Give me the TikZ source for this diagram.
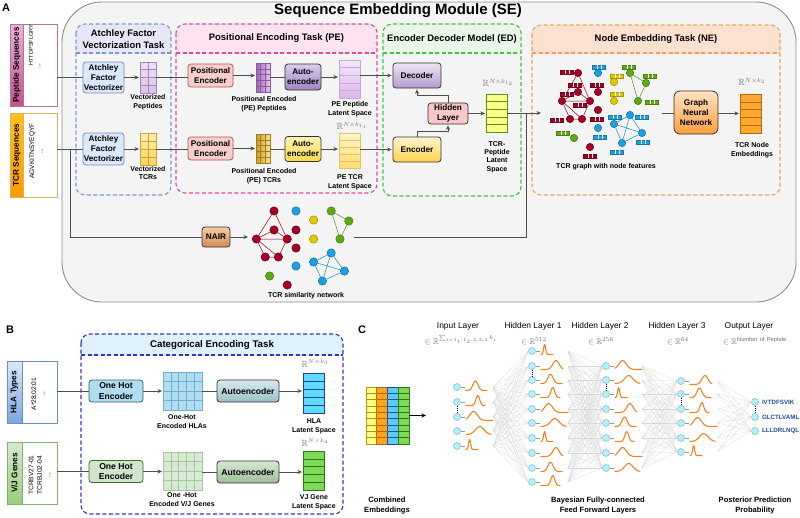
\documentclass[tikz,border=0pt]{standalone}
\usepackage{fontspec}
\setmainfont{Liberation Sans}
\usepackage{amssymb}
\usetikzlibrary{arrows.meta,calc}
\definecolor{lc}{HTML}{4D4D4D}
\definecolor{seb}{HTML}{F4F4F4}
\definecolor{sed}{HTML}{8C8C8C}
\definecolor{mgray}{HTML}{6E6E6E}
\definecolor{pepD}{HTML}{B5739D}\definecolor{pepT}{HTML}{EBB2D4}\definecolor{pepB}{HTML}{C4518F}
\definecolor{tcrD}{HTML}{D6B656}\definecolor{tcrT}{HTML}{FFC21A}\definecolor{tcrB}{HTML}{FF9A00}
\definecolor{hlaD}{HTML}{6C8EBF}\definecolor{hlaT}{HTML}{DAE8FC}\definecolor{hlaB}{HTML}{7EA6E0}
\definecolor{vjD}{HTML}{82B366}\definecolor{vjT}{HTML}{D5E8D4}\definecolor{vjB}{HTML}{97D077}
\definecolor{atD}{HTML}{7D98C8}\definecolor{atH}{HTML}{E6E6F7}
\definecolor{peD}{HTML}{E2479D}\definecolor{peH}{HTML}{FCE3EF}
\definecolor{edD}{HTML}{3FC83F}\definecolor{edH}{HTML}{EAF5EA}
\definecolor{neD}{HTML}{F2A054}\definecolor{neH}{HTML}{FCE1D0}
\definecolor{caD}{HTML}{3434C4}\definecolor{caH}{HTML}{DFF2FB}
\definecolor{atF}{HTML}{DAE8FC}\definecolor{atB}{HTML}{6C8EBF}
\definecolor{vpT}{HTML}{EEE2F4}\definecolor{vpB}{HTML}{D9C3E6}\definecolor{vpD}{HTML}{A383B8}
\definecolor{vtT}{HTML}{FFEEB0}\definecolor{vtB}{HTML}{FFD45C}\definecolor{vtD}{HTML}{C9A23A}
\definecolor{peF}{HTML}{F8CECC}\definecolor{peB}{HTML}{B85450}
\definecolor{pmL}{HTML}{9C63B5}\definecolor{pmR}{HTML}{E3C9EE}\definecolor{pmD}{HTML}{8A5AA0}
\definecolor{ptL}{HTML}{C79A2C}\definecolor{ptR}{HTML}{FFE38F}\definecolor{ptD}{HTML}{A37E1E}
\definecolor{aepT}{HTML}{D9CCE8}\definecolor{aepB}{HTML}{9E84C2}
\definecolor{aeyT}{HTML}{FFF2B3}\definecolor{aeyB}{HTML}{FFD94D}
\definecolor{l1T}{HTML}{F3E6F8}\definecolor{l1B}{HTML}{DCB8EA}\definecolor{l1D}{HTML}{C9A6DA}
\definecolor{l2T}{HTML}{FFF6C8}\definecolor{l2B}{HTML}{FFDC6E}\definecolor{l2D}{HTML}{E3C26A}
\definecolor{decT}{HTML}{EDE4F3}\definecolor{decB}{HTML}{B49ACF}
\definecolor{encT}{HTML}{FFF6D0}\definecolor{encB}{HTML}{FFD24D}
\definecolor{hidF}{HTML}{F8C8C8}
\definecolor{tplF}{HTML}{FFFF88}\definecolor{tplD}{HTML}{4E9A16}
\definecolor{gnnT}{HTML}{FFE4C4}\definecolor{gnnB}{HTML}{FF9E3D}
\definecolor{embF}{HTML}{FFAA2E}\definecolor{embD}{HTML}{B36A00}
\definecolor{nairT}{HTML}{F7CBA4}\definecolor{nairB}{HTML}{D08A52}
\definecolor{gR}{HTML}{A20025}\definecolor{gB}{HTML}{1BA1E2}\definecolor{gY}{HTML}{E3C800}\definecolor{gG}{HTML}{60A917}
\definecolor{ohH}{HTML}{B1DDF0}\definecolor{ohHd}{HTML}{2E5E75}\definecolor{ohV}{HTML}{CFE7C8}\definecolor{ohVd}{HTML}{3C6630}
\definecolor{omH}{HTML}{B1DDF0}\definecolor{omHd}{HTML}{6FAFD0}\definecolor{omV}{HTML}{D8EBD4}\definecolor{omVd}{HTML}{A3C79A}
\definecolor{abHT}{HTML}{D9EAEE}\definecolor{abHB}{HTML}{9BBFC7}\definecolor{abVT}{HTML}{D7E8D3}\definecolor{abVB}{HTML}{9DBE98}
\definecolor{hlF}{HTML}{5EDCFB}\definecolor{hlD}{HTML}{1F3FA8}\definecolor{vlF}{HTML}{7CDA58}\definecolor{vlD}{HTML}{2D7A16}
\definecolor{cY}{HTML}{FFFF88}\definecolor{cYd}{HTML}{B09A00}\definecolor{cO}{HTML}{FFA31A}\definecolor{cOd}{HTML}{B36A00}
\definecolor{cC}{HTML}{5BCEF0}\definecolor{cCd}{HTML}{2446B8}\definecolor{cG}{HTML}{7CDA58}\definecolor{cGd}{HTML}{2D7A16}
\definecolor{nnf}{HTML}{B8EEF8}\definecolor{nnd}{HTML}{7CC6DA}
\definecolor{bellc}{HTML}{EE8421}
\definecolor{pepl}{HTML}{1F4E9C}
\newcommand\fT{\fontsize{15}{18}\selectfont\bfseries}
\newcommand\fH{\fontsize{9.4}{11.5}\selectfont\bfseries}
\newcommand\fB{\fontsize{8.2}{10}\selectfont\bfseries}
\newcommand\fBB{\fontsize{8.6}{10.2}\selectfont\bfseries}
\newcommand\fS{\fontsize{7}{8.7}\selectfont\bfseries}
\newcommand\fR{\fontsize{6.6}{8.5}\selectfont}
\newcommand\fC{\fontsize{8.4}{10}\selectfont}
\newcommand\fL{\fontsize{7.6}{10}\selectfont\bfseries}
\newcommand\fM{\fontsize{9}{10}\selectfont}
\tikzset{
 ln/.style={draw=lc, line width=0.8pt},
 arr/.style={draw=lc, line width=0.8pt, -{Stealth[length=4.5pt,width=4pt]}, shorten >=1pt},
 bx/.style={rounded corners=3pt, line width=0.8pt, align=center, inner sep=0pt, font=\fB},
 sz/.style 2 args={minimum width=#1pt, minimum height=#2pt},
 mat/.style={line width=0.7pt, inner sep=0pt, outer sep=0pt},
 lbl/.style={font=\fS, align=center, inner sep=0pt},
 ttl/.style={font=\fH, align=center, inner sep=0pt},
 rot/.style={rotate=90, inner sep=0pt},
 tb/.style={line width=1.1pt, dash pattern=on 4pt off 2.5pt, rounded corners=9pt},
 fan/.style={draw=black!16, line width=0.25pt},
 nn/.style={circle, inner sep=0pt, minimum size=7pt, fill=nnf, draw=nnd, line width=0.6pt},
 bell/.style={draw=bellc, line width=1.1pt, line cap=round, line join=round},
 mth/.style={font=\fM, text=mgray, inner sep=0pt},
 fml/.style={font=\fontsize{8.2}{9}\selectfont, text=mgray, inner sep=0pt, anchor=base},
 dotdot/.style={draw=black, line width=1pt, dash pattern=on 0.9pt off 1.2pt},
 outl/.style={font=\fontsize{6.2}{7}\selectfont\bfseries, text=pepl, anchor=west, inner sep=0pt},
}
\newcommand\mgrid[4]{%
 \pgfmathtruncatemacro\mgc{#2-1}%
 \pgfmathtruncatemacro\mgr{#3-1}%
 \ifnum\mgc>0
  \foreach \k in {1,...,\mgc}{\pgfmathsetmacro\mgf{\k/#2}\draw[#4,line width=0.6pt] ($(#1.north west)!\mgf!(#1.north east)$) -- ($(#1.south west)!\mgf!(#1.south east)$);}%
 \fi
 \ifnum\mgr>0
  \foreach \k in {1,...,\mgr}{\pgfmathsetmacro\mgf{\k/#3}\draw[#4,line width=0.6pt] ($(#1.north west)!\mgf!(#1.south west)$) -- ($(#1.north east)!\mgf!(#1.south east)$);}%
 \fi
}
\newcommand\taskbox[7]{%
 \begin{scope}\clip (#1,#2) rectangle (#3,#5);
  \fill[#7, rounded corners=9pt] (#1,#2) rectangle (#3,#4);
 \end{scope}
 \draw[tb, draw=#6] (#1,#2) rectangle (#3,#4);
 \draw[#6, line width=1.1pt, dash pattern=on 4pt off 2.5pt] (#1,#5) -- (#3,#5);
}
\newcommand\gnode[3]{\node[circle,inner sep=0pt,minimum size=\gsz,line width=0.5pt,fill=#2,draw=#2!70!black] (\gpre#1) at (#3) {};}
\newcommand\tcrgraph[2]{%
 \def\gpre{#1}\def\gsz{#2}%
 \gnode{r1}{gR}{0,0}\gnode{r2}{gR}{0,19}\gnode{r3}{gR}{-16,28}\gnode{r4}{gR}{12,28}\gnode{r5}{gR}{-8,46}%
 \gnode{r6}{gR}{4,46}\gnode{r7}{gR}{20,19}\gnode{r8}{gR}{20,37}\gnode{r9}{gR}{12,74}%
 \gnode{b1}{gB}{20,0}\gnode{b2}{gB}{20,55}\gnode{b3}{gB}{36,51}\gnode{b4}{gB}{52,42}\gnode{b5}{gB}{64,60}\gnode{b6}{gB}{44,70}%
 \gnode{y1}{gY}{36,9}\gnode{y2}{gY}{36,28}%
 \gnode{g1}{gG}{52,0}\gnode{g2}{gG}{68,10}\gnode{g3}{gG}{60,28}\gnode{g4}{gG}{-4,65}%
 \draw[gR!85!black, line width=0.5pt] (#1r1)--(#1r3) (#1r1)--(#1r4) (#1r2)--(#1r3) (#1r2)--(#1r4) (#1r3)--(#1r4) (#1r3)--(#1r5) (#1r5)--(#1r6) (#1r6)--(#1r4) (#1r3)--(#1r6);
 \draw[gB!85!black, line width=0.5pt] (#1b3)--(#1b4) (#1b4)--(#1b5) (#1b5)--(#1b6) (#1b6)--(#1b3) (#1b3)--(#1b5) (#1b4)--(#1b6);
 \draw[gG!85!black, line width=0.5pt] (#1g1)--(#1g2) (#1g2)--(#1g3) (#1g1)--(#1g3);
}
\newcommand\gbar[3]{\filldraw[fill=#1, draw=#1!75!black, line width=0.3pt] (#2-6.5,#3-2.2) rectangle (#2+6.5,#3+2.2);
 \draw[white, line width=0.4pt] (#2-2.2,#3-2.2) -- (#2-2.2,#3+2.2) (#2+2.2,#3-2.2) -- (#2+2.2,#3+2.2);}
\newcommand\bellat[2]{%
 \pgfmathsetmacro\bm{{0.68,0.30,0.55,0.28,0.62,0.45}[#2]}%
 \pgfmathsetmacro\bs{{0.20,0.12,0.24,0.20,0.14,0.17}[#2]}%
 \pgfmathsetmacro\bw{{22,12,25,27,19,21}[#2]}%
 \pgfmathsetmacro\bh{{9,10,8,9,10,9.5}[#2]}%
 \draw[black!40, line width=0.5pt] (#1.east) -- ++(4,0);%
 \begin{scope}[shift={($(#1)+(9,3.5)$)}]
 \draw[bell] plot[domain=0:1, samples=25, smooth] ({\bw*\x},{-\bh*exp(-min(((\x-\bm)/\bs)*((\x-\bm)/\bs),12))});
 \end{scope}%
}
\begin{document}
\begin{tikzpicture}[x=1pt,y=-1pt]
\useasboundingbox (0,0) rectangle (800,517);
% ---------- Panel A ----------
\node[font=\fontsize{11}{12}\selectfont\bfseries, inner sep=0pt] (labA) at (6,8) {A};
\draw[fill=seb, draw=sed, line width=0.9pt, rounded corners=40pt] (62,2) rectangle (796,302);
\node[font=\fT, inner sep=0pt] (setitle) at (398,11) {Sequence Embedding Module (SE)};
\taskbox{76}{24}{171}{195}{53}{atD}{atH}
\taskbox{176}{24}{377}{193}{53}{peD}{peH}
\taskbox{383}{24}{521}{196}{53}{edD}{edH}
\taskbox{532}{25}{780}{195}{53}{neD}{neH}
\node[ttl] (atT) at (123.5,39) {Atchley Factor\\Vectorization Task};
\node[ttl] (peT) at (276.5,38) {Positional Encoding Task (PE)};
\node[ttl] (edT) at (452,39) {Encoder Decoder Model (ED)};
\node[ttl] (neT) at (656,39) {Node Embedding Task (NE)};
% inputs
\node[draw=pepD, fill=white, line width=0.8pt, minimum width=47pt, minimum height=82pt, inner sep=0pt, outer sep=0pt] (pep) at (33.5,65) {};
\path[top color=pepT, bottom color=pepB, draw=pepD, line width=0.8pt] (pep.north west) rectangle ($(pep.south west)+(13.5,0)$);
\node[rot, font=\fB] (pepL) at ($(pep.west)+(6.75,0)$) {Peptide Sequences};
\node[rot, font=\fontsize{5.6}{7}\selectfont] (pepS) at (31,45) {HTTDPSFLGRY};
\node[rot, font=\fR] (pepE) at (40,66) {...};
\node[draw=tcrD, fill=white, line width=0.8pt, minimum width=47pt, minimum height=84pt, inner sep=0pt, outer sep=0pt] (tcr) at (33.5,155) {};
\path[top color=tcrT, bottom color=tcrB, draw=tcrD, line width=0.8pt] (tcr.north west) rectangle ($(tcr.south west)+(13.5,0)$);
\node[rot, font=\fB] (tcrL) at ($(tcr.west)+(6.75,0)$) {TCR Sequences};
\node[rot, font=\fR, align=center] (tcrS) at (36,151) {AGVKITNSYEQYF\\...};
% Atchley
\node[bx, sz={41}{31}, fill=atF, draw=atB] (atch1) at (103.5,77.5) {Atchley\\Factor\\Vectorizer};
\node[bx, sz={41}{32}, fill=atF, draw=atB] (atch2) at (103.5,149) {Atchley\\Factor\\Vectorizer};
\node[mat, sz={16}{31}, top color=vpT, bottom color=vpB, draw=vpD] (vp) at (148,77.5) {};
\mgrid{vp}{2}{4}{vpD}
\node[mat, sz={16}{32}, top color=vtT, bottom color=vtB, draw=vtD] (vt) at (148,149) {};
\mgrid{vt}{2}{4}{vtD}
\node[lbl] (vpL) at (148,102.5) {Vectorized\\Peptides};
\node[lbl] (vtL) at (148,173) {Vectorized\\TCRs};
% PE
\node[bx, sz={45}{23}, fill=peF, draw=peB] (pe1) at (210.5,75.5) {Positional\\Encoder};
\node[bx, sz={45}{23}, fill=peF, draw=peB] (pe2) at (210.5,148.5) {Positional\\Encoder};
\node[mat, sz={14}{29}, left color=pmL, right color=pmR, draw=pmD] (pem1) at (263,77.5) {};
\mgrid{pem1}{3}{5}{pmD}
\node[mat, sz={14}{29}, left color=ptL, right color=ptR, draw=ptD] (pem2) at (263,148.5) {};
\mgrid{pem2}{3}{5}{ptD}
\node[lbl] (pem1L) at (264,104.5) {Positional Encoded\\(PE) Peptides};
\node[lbl] (pem2L) at (264,176) {Positional Encoded\\(PE) TCRs};
\node[bx, sz={36}{26}, top color=aepT, bottom color=aepB, draw=black!80] (ae1) at (303,77) {Auto-\\encoder};
\node[bx, sz={36}{25}, top color=aeyT, bottom color=aeyB, draw=black!80] (ae2) at (303,149) {Auto-\\encoder};
\node[mat, sz={21}{38}, top color=l1T, bottom color=l1B, draw=l1D] (lat1) at (349.5,79) {};
\mgrid{lat1}{1}{5}{l1D}
\node[mat, sz={21}{35}, top color=l2T, bottom color=l2B, draw=l2D] (lat2) at (349.5,150.5) {};
\mgrid{lat2}{1}{5}{l2D}
\node[lbl] (lat1L) at (350,109.5) {PE Peptide\\Latent Space};
\node[lbl] (lat2L) at (350,182) {PE TCR\\Latent Space};
\node[mth] (lat2R) at (352,126) {$\mathbb{R}^{N\times k_{1_1}}$};
% ED
\node[bx, sz={48}{25}, top color=decT, bottom color=decB, draw=black!80] (dec) at (417,75.5) {Decoder};
\node[bx, sz={48}{25}, top color=encT, bottom color=encB, draw=black!80] (enc) at (417,149.5) {Encoder};
\node[bx, sz={40}{21}, fill=hidF, draw=black!80] (hid) at (448,113.5) {Hidden\\Layer};
\node[mat, sz={21}{38}, fill=tplF, draw=tplD] (tpl) at (496.5,113) {};
\mgrid{tpl}{1}{5}{tplD}
\node[mth] (tplR) at (498,83) {$\mathbb{R}^{N\times k_{1_2}}$};
\node[lbl, font=\fontsize{7}{8.3}\selectfont\bfseries] (tplL) at (497,157) {TCR-\\Peptide\\Latent\\Space};
% NE
\begin{scope}[shift={(578,73)}]
\tcrgraph{ne}{7.4pt}
\gbar{gR}{-11}{-1}\gbar{gR}{-3}{12}\gbar{gR}{19}{12}\gbar{gR}{-11}{21}\gbar{gR}{2}{32}\gbar{gR}{-21}{47}\gbar{gR}{19}{46}\gbar{gR}{12}{83}
\gbar{gB}{21}{-6}\gbar{gB}{37}{44}\gbar{gB}{64}{44}\gbar{gB}{22}{64}\gbar{gB}{65}{69}\gbar{gB}{39}{79}
\gbar{gY}{39}{3}\gbar{gY}{39}{21}
\gbar{gG}{51}{-6}\gbar{gG}{72}{3}\gbar{gG}{74}{29}\gbar{gG}{-15}{60}
\end{scope}
\node[lbl] (neGL) at (606,167) {TCR graph with node features};
\node[bx, sz={44}{43}, rounded corners=6pt, top color=gnnT, bottom color=gnnB, draw=black!80] (gnn) at (696,112.5) {Graph\\Neural\\Network};
\node[mat, sz={21}{39}, fill=embF, draw=embD] (emb) at (750.5,113.5) {};
\mgrid{emb}{1}{5}{embD}
\node[mth] (embR) at (752,82) {$\mathbb{R}^{N\times k_2}$};
\node[lbl] (embL) at (752,150.5) {TCR Node\\Embeddings};
% NAIR network
\node[bx, sz={28}{20}, top color=nairT, bottom color=nairB, draw=black!80] (nair) at (216,237) {NAIR};
\begin{scope}[shift={(274,211)}, xscale=1.1]
\tcrgraph{na}{8.4pt}
\end{scope}
\node[lbl] (naL) at (306,296) {TCR similarity network};
% connectors A
\coordinate (br) at (70,149);
\coordinate (netin) at (249,237);
\coordinate (netout) at (354,237);
\coordinate (jn) at (526,113);
\coordinate (neIn) at (542,113);
\coordinate (geo) at (662,113);
\draw[ln] (atch1.west -| pep.east) -- (atch1.west);
\draw[arr] (atch1) -- (vp);
\draw[ln] (vp.east) -- (vp.east -| pe1.west);
\draw[arr] (pe1.east) -- (pe1.east -| pem1.west);
\draw[ln] (pem1.east |- ae1.west) -- (ae1.west);
\draw[arr] (ae1.east) -- (ae1.east -| lat1.west);
\draw[arr] (lat1.east |- dec.west) -- (dec.west);
\draw[ln] (atch2.west -| tcr.east) -- (atch2.west);
\draw[arr] (atch2) -- (vt);
\draw[ln] (vt.east) -- (vt.east -| pe2.west);
\draw[arr] (pe2.east) -- (pe2.east -| pem2.west);
\draw[ln] (pem2.east |- ae2.west) -- (ae2.west);
\draw[arr] (ae2.east) -- (ae2.east -| lat2.west);
\draw[arr] (lat2.east |- enc.west) -- (enc.west);
\draw[arr] (enc.north) -- ++(0,-5) -| (hid.south);
\draw[arr] (hid.north) -- ++(0,-7) -| (dec.south);
\draw[arr] (hid.east) -- (hid.east -| tpl.west);
\draw[arr] (tpl.east) -- (neIn);
\draw[ln] (netout) -| (jn);
\draw[ln] (br) |- (nair.west);
\draw[arr] (nair.east) -- (netin);
\draw[ln] (geo) -- (geo -| gnn.west);
\draw[arr] (gnn.east |- emb.west) -- (emb.west);
% ---------- Panel B ----------
\node[font=\fontsize{11}{12}\selectfont\bfseries, inner sep=0pt] (labB) at (10,330) {B};
\taskbox{81}{334}{343}{514}{355}{caD}{caH}
\node[ttl, font=\fontsize{9.7}{11}\selectfont\bfseries] (caT) at (212,345) {Categorical Encoding Task};
\node[draw=hlaD, fill=white, line width=0.8pt, minimum width=50pt, minimum height=62pt, inner sep=0pt, outer sep=0pt] (hla) at (32,392) {};
\path[top color=hlaT, bottom color=hlaB, draw=hlaD, line width=0.8pt] (hla.north west) rectangle ($(hla.south west)+(15,0)$);
\node[rot, font=\fB] (hlaL) at ($(hla.west)+(7.5,0)$) {HLA Types};
\node[rot, font=\fR, align=center] (hlaS) at (38,394) {A*28:02:01\\...};
\node[draw=vjD, fill=white, line width=0.8pt, minimum width=50pt, minimum height=62pt, inner sep=0pt, outer sep=0pt] (vj) at (32,473) {};
\path[top color=vjT, bottom color=vjB, draw=vjD, line width=0.8pt] (vj.north west) rectangle ($(vj.south west)+(15,0)$);
\node[rot, font=\fB] (vjL) at ($(vj.west)+(7.5,0)$) {V/J Genes};
\node[rot, font=\fR, align=center] (vjS) at (39.5,475) {TCRBV27-01\\TCRBJ02-04\\...};
\node[bx, font=\fBB, sz={54}{22}, fill=ohH, draw=ohHd] (ohe1) at (116,391) {One Hot\\Encoder};
\node[bx, font=\fBB, sz={54}{22}, fill=ohV, draw=ohVd] (ohe2) at (116,471.5) {One Hot\\Encoder};
\node[mat, sz={39}{38}, fill=omH, draw=omHd] (ohm1) at (182.5,391) {};
\mgrid{ohm1}{5}{4}{omHd}
\node[mat, sz={39}{38}, fill=omV, draw=omVd] (ohm2) at (182.5,471) {};
\mgrid{ohm2}{5}{4}{omVd}
\node[lbl] (ohm1L) at (182,421.5) {One-Hot\\Encoded HLAs};
\node[lbl] (ohm2L) at (182,499.5) {One -Hot\\Encoded V/J Genes};
\node[bx, font=\fBB, sz={62}{22}, top color=abHT, bottom color=abHB, draw=black!80] (aeb1) at (248,391) {Autoencoder};
\node[bx, font=\fBB, sz={62}{22}, top color=abVT, bottom color=abVB, draw=black!80] (aeb2) at (248,472) {Autoencoder};
\node[mat, sz={21}{40}, fill=hlF, draw=hlD] (hlat) at (313.5,393) {};
\mgrid{hlat}{1}{5}{hlD}
\node[mat, sz={21}{39}, fill=vlF, draw=vlD] (vjlat) at (313.5,470.5) {};
\mgrid{vjlat}{1}{5}{vlD}
\node[mth] (hlatR) at (315,363) {$\mathbb{R}^{N\times k_3}$};
\node[mth] (vjlatR) at (315,442) {$\mathbb{R}^{N\times k_4}$};
\node[lbl] (hlatL) at (314,426) {HLA\\Latent Space};
\node[lbl] (vjlatL) at (314,502) {VJ Gene\\Latent Space};
\draw[ln] (ohe1.west -| hla.east) -- (ohe1.west);
\draw[arr] (ohe1) -- (ohm1);
\draw[ln] (ohm1) -- (aeb1);
\draw[arr] (aeb1.east) -- (aeb1.east -| hlat.west);
\draw[ln] (ohe2.west -| vj.east) -- (ohe2.west);
\draw[arr] (ohe2.east) -- (ohe2.east -| ohm2.west);
\draw[ln] (ohm2.east |- aeb2.west) -- (aeb2.west);
\draw[arr] (aeb2.east) -- (aeb2.east -| vjlat.west);
% ---------- Panel C ----------
\node[font=\fontsize{11}{12}\selectfont\bfseries, inner sep=0pt] (labC) at (362,330) {C};
\node[mat, sz={10.75}{57}, fill=cY, draw=cYd] (cm1) at (371.375,415.5) {};
\node[mat, sz={10.75}{57}, fill=cO, draw=cOd] (cm2) at (382.125,415.5) {};
\node[mat, sz={10.75}{57}, fill=cC, draw=cCd] (cm3) at (392.875,415.5) {};
\node[mat, sz={10.75}{57}, fill=cG, draw=cGd] (cm4) at (403.625,415.5) {};
\mgrid{cm1}{1}{9}{cYd}\mgrid{cm2}{1}{9}{cOd}\mgrid{cm3}{1}{9}{cCd}\mgrid{cm4}{1}{9}{cGd}
\coordinate (cin) at (427,415.5);
\draw[arr, draw=black] (cm4.east) -- (cin);
\node[font=\fL, align=center, inner sep=0pt] (cmL) at (387,506) {Combined\\Embeddings};
\node[font=\fL, align=center, inner sep=0pt] (ffL) at (598,506) {Bayesian Fully-connected\\Feed Forward Layers};
\node[font=\fL, align=center, inner sep=0pt] (ppL) at (755,506) {Posterior Prediction\\Probability};
\node[font=\fC, inner sep=0pt] (h0) at (458,326) {Input Layer};
\node[font=\fC, inner sep=0pt] (h1) at (533,326) {Hidden Layer 1};
\node[font=\fC, inner sep=0pt] (h2) at (600,326) {Hidden Layer 2};
\node[font=\fC, inner sep=0pt] (h3) at (677,326) {Hidden Layer 3};
\node[font=\fC, inner sep=0pt] (h4) at (749,326) {Output Layer};
\node[fml] (f0) at (461,344) {$\in\mathbb{R}^{\sum_{i=1_1,1_2,2,3,4}k_i}$};
\node[fml] (f1) at (534,344) {$\in\mathbb{R}^{512}$};
\node[fml] (f2) at (601,344) {$\in\mathbb{R}^{256}$};
\node[fml] (f3) at (678,344) {$\in\mathbb{R}^{64}$};
\node[fml] (f4) at (755,344) {$\in\mathbb{R}^{\mathrm{Number\ of\ Peptide}}$};
\foreach \y [count=\i] in {387,402,417,431,446} \node[nn] (c0-\i) at (457,\y) {};
\foreach \y [count=\i] in {351,366,380,394,409,423,438,453,468,482} \node[nn] (c1-\i) at (532,\y) {};
\foreach \y [count=\i] in {366,380,394,409,423,438,453,468} \node[nn] (c2-\i) at (606,\y) {};
\foreach \y [count=\i] in {381,394,409,423,438,452} \node[nn] (c3-\i) at (681,\y) {};
\foreach \y [count=\i] in {402,417,431} \node[nn] (c4-\i) at (755,\y) {};
\foreach \i in {1,...,5}{\foreach \j in {1,...,10}{\draw[fan] ($(c0-\i)+(36,0)$) -- (c1-\j.west);}}
\foreach \i in {1,...,10}{\foreach \j in {1,...,8}{\draw[fan] ($(c1-\i)+(36,0)$) -- (c2-\j.west);}}
\foreach \i in {1,...,8}{\foreach \j in {1,...,6}{\draw[fan] ($(c2-\i)+(36,0)$) -- (c3-\j.west);}}
\foreach \i in {1,...,6}{\foreach \j in {1,...,3}{\draw[fan] ($(c3-\i)+(36,0)$) -- (c4-\j.west);}}
\foreach \i in {1,...,5}{\pgfmathtruncatemacro\vv{mod(\i*5,6)}\bellat{c0-\i}{\vv}}
\foreach \i in {1,...,10}{\pgfmathtruncatemacro\vv{mod(\i*5+2,6)}\bellat{c1-\i}{\vv}}
\foreach \i in {1,...,8}{\pgfmathtruncatemacro\vv{mod(\i*5+4,6)}\bellat{c2-\i}{\vv}}
\foreach \i in {1,...,6}{\pgfmathtruncatemacro\vv{mod(\i*5+1,6)}\bellat{c3-\i}{\vv}}
\draw[dotdot] (c0-2.south) -- (c0-3.north);
\draw[dotdot] (c1-2.south) -- (c1-3.north);
\draw[dotdot] (c2-2.south) -- (c2-3.north);
\draw[dotdot] (c3-2.south) -- (c3-3.north);
\draw[dotdot] (c4-1.south) -- (c4-2.north);
\node[outl] (o1) at ($(c4-1.east)+(3,0)$) {IVTDFSVIK};
\node[outl] (o2) at ($(c4-2.east)+(3,0)$) {GLCTLVAML};
\node[outl] (o3) at ($(c4-3.east)+(3,0)$) {LLLDRLNQL};
\end{tikzpicture}
\end{document}
